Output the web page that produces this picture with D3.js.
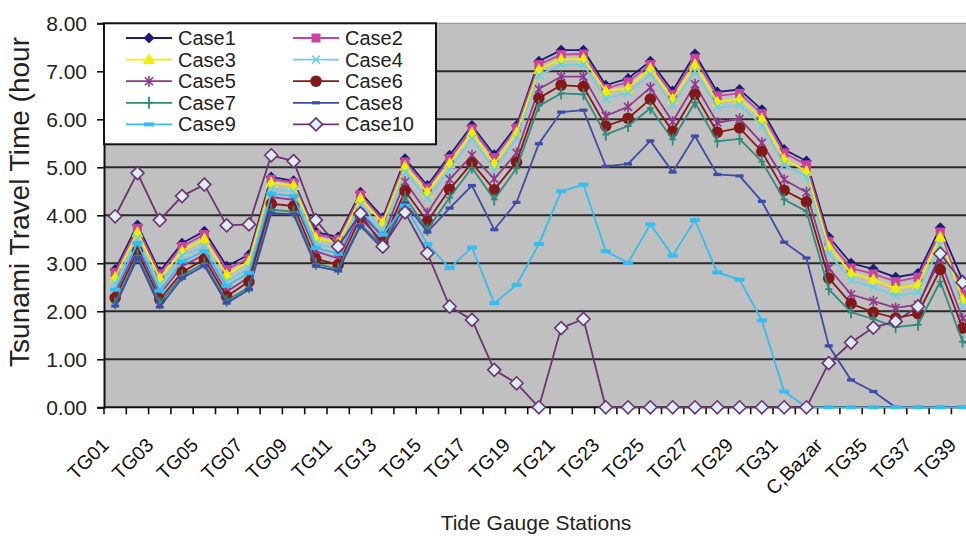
<!DOCTYPE html>
<html>
<head>
<meta charset="utf-8">
<script src="https://cdn.jsdelivr.net/npm/d3@7"></script>
<style>
  html, body { margin: 0; padding: 0; background: #fff; overflow: hidden; }
  svg { display: block; font-family: Arial, "Liberation Sans", sans-serif; }
</style>
</head>
<body>
<svg id="chart" width="966" height="536"></svg>
<script>
// Tide gauge stations along the coast
const stations = ["TG01","TG02","TG03","TG04","TG05","TG06","TG07","TG08","TG09","TG10",
  "TG11","TG12","TG13","TG14","TG15","TG16","TG17","TG18","TG19","TG20",
  "TG21","TG22","TG23","TG24","TG25","TG26","TG27","TG28","TG29","TG30",
  "TG31","TG32","C,Bazar","TG34","TG35","TG36","TG37","TG38","TG39","TG40"];

// Tsunami travel time (hours) per scenario
const case1 = [2.87,3.80,2.83,3.42,3.67,2.94,3.18,4.80,4.72,3.65,3.55,4.48,3.95,5.18,4.62,5.25,5.87,5.26,5.87,7.21,7.44,7.44,6.71,6.85,7.21,6.59,7.36,6.57,6.62,6.20,5.37,5.13,3.55,3.00,2.88,2.71,2.79,3.74,2.65,2.45];
const case2 = [2.81,3.73,2.78,3.35,3.60,2.87,3.11,4.75,4.68,3.60,3.50,4.43,3.90,5.11,4.57,5.18,5.80,5.20,5.82,7.14,7.35,7.36,6.64,6.78,7.14,6.52,7.27,6.49,6.54,6.12,5.30,5.05,3.46,2.90,2.78,2.62,2.71,3.65,2.35,2.15];
const case3 = [2.71,3.64,2.69,3.25,3.51,2.76,3.04,4.68,4.62,3.53,3.43,4.35,3.85,5.02,4.48,5.08,5.72,5.07,5.72,7.04,7.25,7.26,6.59,6.65,7.06,6.42,7.14,6.36,6.43,6.01,5.17,4.92,3.35,2.80,2.66,2.48,2.55,3.55,2.25,2.05];
const case4 = [2.58,3.52,2.55,3.16,3.35,2.62,2.90,4.55,4.50,3.42,3.30,4.22,3.70,4.90,4.35,4.95,5.60,4.95,5.60,6.92,7.14,7.14,6.43,6.55,6.94,6.30,7.00,6.25,6.30,5.88,5.05,4.80,3.20,2.65,2.50,2.32,2.40,3.38,2.10,1.90];
const case5 = [2.38,3.35,2.35,2.94,3.18,2.41,2.71,4.38,4.32,3.25,3.10,4.05,3.55,4.70,4.05,4.75,5.25,4.76,5.30,6.63,6.89,6.89,6.07,6.26,6.66,5.95,6.73,5.93,6.01,5.51,4.74,4.48,2.90,2.35,2.21,2.07,2.14,3.07,1.85,1.65];
const case6 = [2.28,3.25,2.25,2.81,3.09,2.31,2.62,4.24,4.19,3.09,2.97,3.95,3.44,4.51,3.87,4.54,5.09,4.53,5.11,6.44,6.71,6.68,5.86,6.02,6.42,5.75,6.52,5.73,5.82,5.33,4.52,4.28,2.69,2.16,1.98,1.86,1.95,2.87,1.65,1.45];
const case7 = [2.17,3.16,2.17,2.74,3.00,2.22,2.50,4.12,4.07,2.99,2.88,3.82,3.35,4.38,3.70,4.37,4.99,4.33,4.98,6.28,6.54,6.52,5.68,5.86,6.23,5.58,6.35,5.54,5.59,5.12,4.33,4.08,2.46,1.98,1.84,1.67,1.72,2.62,1.37,1.15];
const case8 = [2.11,3.11,2.09,2.69,2.95,2.17,2.45,4.05,4.02,2.94,2.84,3.78,3.30,4.26,3.65,4.15,4.62,3.70,4.27,5.49,6.15,6.19,5.02,5.07,5.55,4.90,5.65,4.85,4.82,4.29,3.44,3.11,1.28,0.57,0.33,0,0,0,0,0];
const case9 = [2.45,3.42,2.43,3.04,3.25,2.53,2.80,4.45,4.40,3.32,3.20,4.10,3.60,4.20,3.40,2.90,3.33,2.17,2.55,3.40,4.50,4.64,3.25,3.01,3.81,3.16,3.90,2.81,2.66,1.81,0.33,0,0,0,0,0,0,0,0,0];
const case10 = [3.98,4.88,3.90,4.40,4.64,3.79,3.81,5.25,5.13,3.90,3.35,4.04,3.35,4.06,3.21,2.10,1.82,0.78,0.50,0,1.65,1.84,0,0,0,0,0,0,0,0,0,0,0.92,1.35,1.66,1.79,2.10,3.20,2.60,2.40];

const seriesNames = ["Case1","Case2","Case3","Case4","Case5","Case6","Case7","Case8","Case9","Case10"];
const seriesValues = [case1, case2, case3, case4, case5, case6, case7, case8, case9, case10];
const yTicks = [0, 1, 2, 3, 4, 5, 6, 7, 8];

// Line colour and marker shape for each series
const styles = [
  { color: "#1c1c78", marker: "diamond" },
  { color: "#c8449e", marker: "square" },
  { color: "#f2ee00", marker: "triangle" },
  { color: "#6fcfe0", marker: "times" },
  { color: "#8c3a8e", marker: "asterisk" },
  { color: "#841818", marker: "circle" },
  { color: "#2f8a7c", marker: "plus" },
  { color: "#3d4ca8", marker: "dash" },
  { color: "#36bdf0", marker: "wideDash" },
  { color: "#6c3471", marker: "hollowDiamond" }
];

const svg = d3.select("#chart");
const plot = { left: 104, top: 23.3, bottom: 407.3 };
const bandW = 22.3;

const x = d3.scaleBand().domain(stations).range([plot.left, plot.left + bandW * stations.length]).padding(0);
const cx = d => x(d) + x.bandwidth() / 2;
const y = d3.scaleLinear().domain([0, 8]).range([plot.bottom, plot.top]);

// Plot background
svg.append("rect")
  .attr("x", plot.left).attr("y", plot.top)
  .attr("width", x.range()[1] - plot.left).attr("height", plot.bottom - plot.top)
  .attr("fill", "#c0c0c0");

// Horizontal gridlines
svg.append("g").selectAll("line")
  .data(yTicks.filter(v => v > 0))
  .join("line")
  .attr("x1", plot.left).attr("x2", x.range()[1])
  .attr("y1", d => y(d)).attr("y2", d => y(d))
  .attr("stroke", d => d === 8 ? "#9a9a9a" : "#2a2a2a")
  .attr("stroke-width", d => d === 8 ? 1.2 : 2);

// Y axis
const yAxis = d3.axisLeft(y).tickValues(yTicks).tickFormat(d => d.toFixed(2)).tickSize(7).tickPadding(10);
const gy = svg.append("g").attr("transform", `translate(${plot.left},0)`).call(yAxis);
gy.select(".domain").attr("stroke", "#111").attr("stroke-width", 2);
gy.selectAll(".tick line").attr("stroke", "#111").attr("stroke-width", 1.6);
gy.selectAll(".tick text").attr("font-size", 21).attr("fill", "#222")
  .attr("font-family", "Arial, 'Liberation Sans', sans-serif");

// X axis: ticks between stations, labels on every other station
const gx = svg.append("g").attr("transform", `translate(0,${plot.bottom})`);
gx.append("line").attr("x1", plot.left).attr("x2", x.range()[1])
  .attr("y1", 0).attr("y2", 0).attr("stroke", "#111").attr("stroke-width", 2);
gx.selectAll("line.tk")
  .data(d3.range(stations.length + 1))
  .join("line").attr("class", "tk")
  .attr("x1", i => plot.left + i * x.bandwidth()).attr("x2", i => plot.left + i * x.bandwidth())
  .attr("y1", 0).attr("y2", 7)
  .attr("stroke", "#111").attr("stroke-width", 1.6);
gx.selectAll("text")
  .data(stations.filter((s, i) => i % 2 === 0))
  .join("text")
  .attr("transform", d => `translate(${cx(d) - 5},${39}) rotate(-45)`)
  .attr("text-anchor", "end")
  .attr("font-size", 19.5)
  .attr("fill", "#111")
  .text(d => d);

// Axis titles
svg.append("text")
  .attr("x", 536).attr("y", 530)
  .attr("text-anchor", "middle")
  .attr("font-size", 21).attr("fill", "#222")
  .text("Tide Gauge Stations");
svg.append("text")
  .attr("transform", "translate(29,202) rotate(-90)")
  .attr("text-anchor", "middle")
  .attr("font-size", 28).attr("fill", "#222")
  .text("Tsunami Travel Time (hour");

// Marker drawing
function drawMarker(sel, type, color) {
  switch (type) {
    case "diamond":
      sel.append("path").attr("d", "M0,-5.5L5.5,0L0,5.5L-5.5,0Z").attr("fill", color);
      break;
    case "hollowDiamond":
      sel.append("path").attr("d", "M0,-6.5L6.5,0L0,6.5L-6.5,0Z")
        .attr("fill", "#dcedf5").attr("stroke", color).attr("stroke-width", 1.6);
      break;
    case "square":
      sel.append("rect").attr("x", -4.5).attr("y", -4.5).attr("width", 9).attr("height", 9).attr("fill", color);
      break;
    case "triangle":
      sel.append("path").attr("d", "M0,-6.5L6,4.5L-6,4.5Z").attr("fill", color);
      break;
    case "times":
      sel.append("path").attr("d", "M-4,-4L4,4M-4,4L4,-4").attr("stroke", color).attr("stroke-width", 1.6).attr("fill", "none");
      break;
    case "asterisk":
      sel.append("path").attr("d", "M-4,-4L4,4M-4,4L4,-4M0,-5.5L0,5.5").attr("stroke", color).attr("stroke-width", 1.6).attr("fill", "none");
      break;
    case "circle":
      sel.append("circle").attr("r", 5.8).attr("fill", color);
      break;
    case "plus":
      sel.append("path").attr("d", "M0,-6L0,6M-3.5,0L3.5,0").attr("stroke", color).attr("stroke-width", 1.8).attr("fill", "none");
      break;
    case "dash":
      sel.append("rect").attr("x", -4).attr("y", -1.6).attr("width", 8).attr("height", 3.2).attr("fill", color);
      break;
    case "wideDash":
      sel.append("rect").attr("x", -5).attr("y", -2).attr("width", 10).attr("height", 4).attr("fill", color);
      break;
  }
}

// Series lines and markers
const line = d3.line().x(d => cx(d.station)).y(d => y(d.value));
seriesNames.forEach((name, k) => {
  const pts = stations.map((s, i) => ({ station: s, value: seriesValues[k][i] }));
  const g = svg.append("g").attr("class", "series");
  g.append("path").datum(pts)
    .attr("d", line).attr("fill", "none")
    .attr("stroke", styles[k].color).attr("stroke-width", 1.8);
  g.selectAll("g.m").data(pts).join("g").attr("class", "m")
    .attr("transform", d => `translate(${cx(d.station)},${y(d.value)})`)
    .each(function () { drawMarker(d3.select(this), styles[k].marker, styles[k].color); });
});

// Legend
const legend = svg.append("g");
legend.append("rect")
  .attr("x", plot.left).attr("y", plot.top)
  .attr("width", 332).attr("height", 121)
  .attr("fill", "#fff").attr("stroke", "#111").attr("stroke-width", 2);
seriesNames.forEach((name, k) => {
  const col = k % 2, row = Math.floor(k / 2);
  const lx = col === 0 ? 126 : 293;
  const ly = 38 + row * 21.6;
  const item = legend.append("g");
  item.append("line").attr("x1", lx).attr("x2", lx + 46).attr("y1", ly).attr("y2", ly)
    .attr("stroke", styles[k].color).attr("stroke-width", 1.8);
  const m = item.append("g").attr("transform", `translate(${lx + 23},${ly})`);
  drawMarker(m, styles[k].marker, styles[k].color);
  item.append("text").attr("x", lx + 52).attr("y", ly + 7)
    .attr("font-size", 20).attr("fill", "#222").text(name);
});
</script>
</body>
</html>
